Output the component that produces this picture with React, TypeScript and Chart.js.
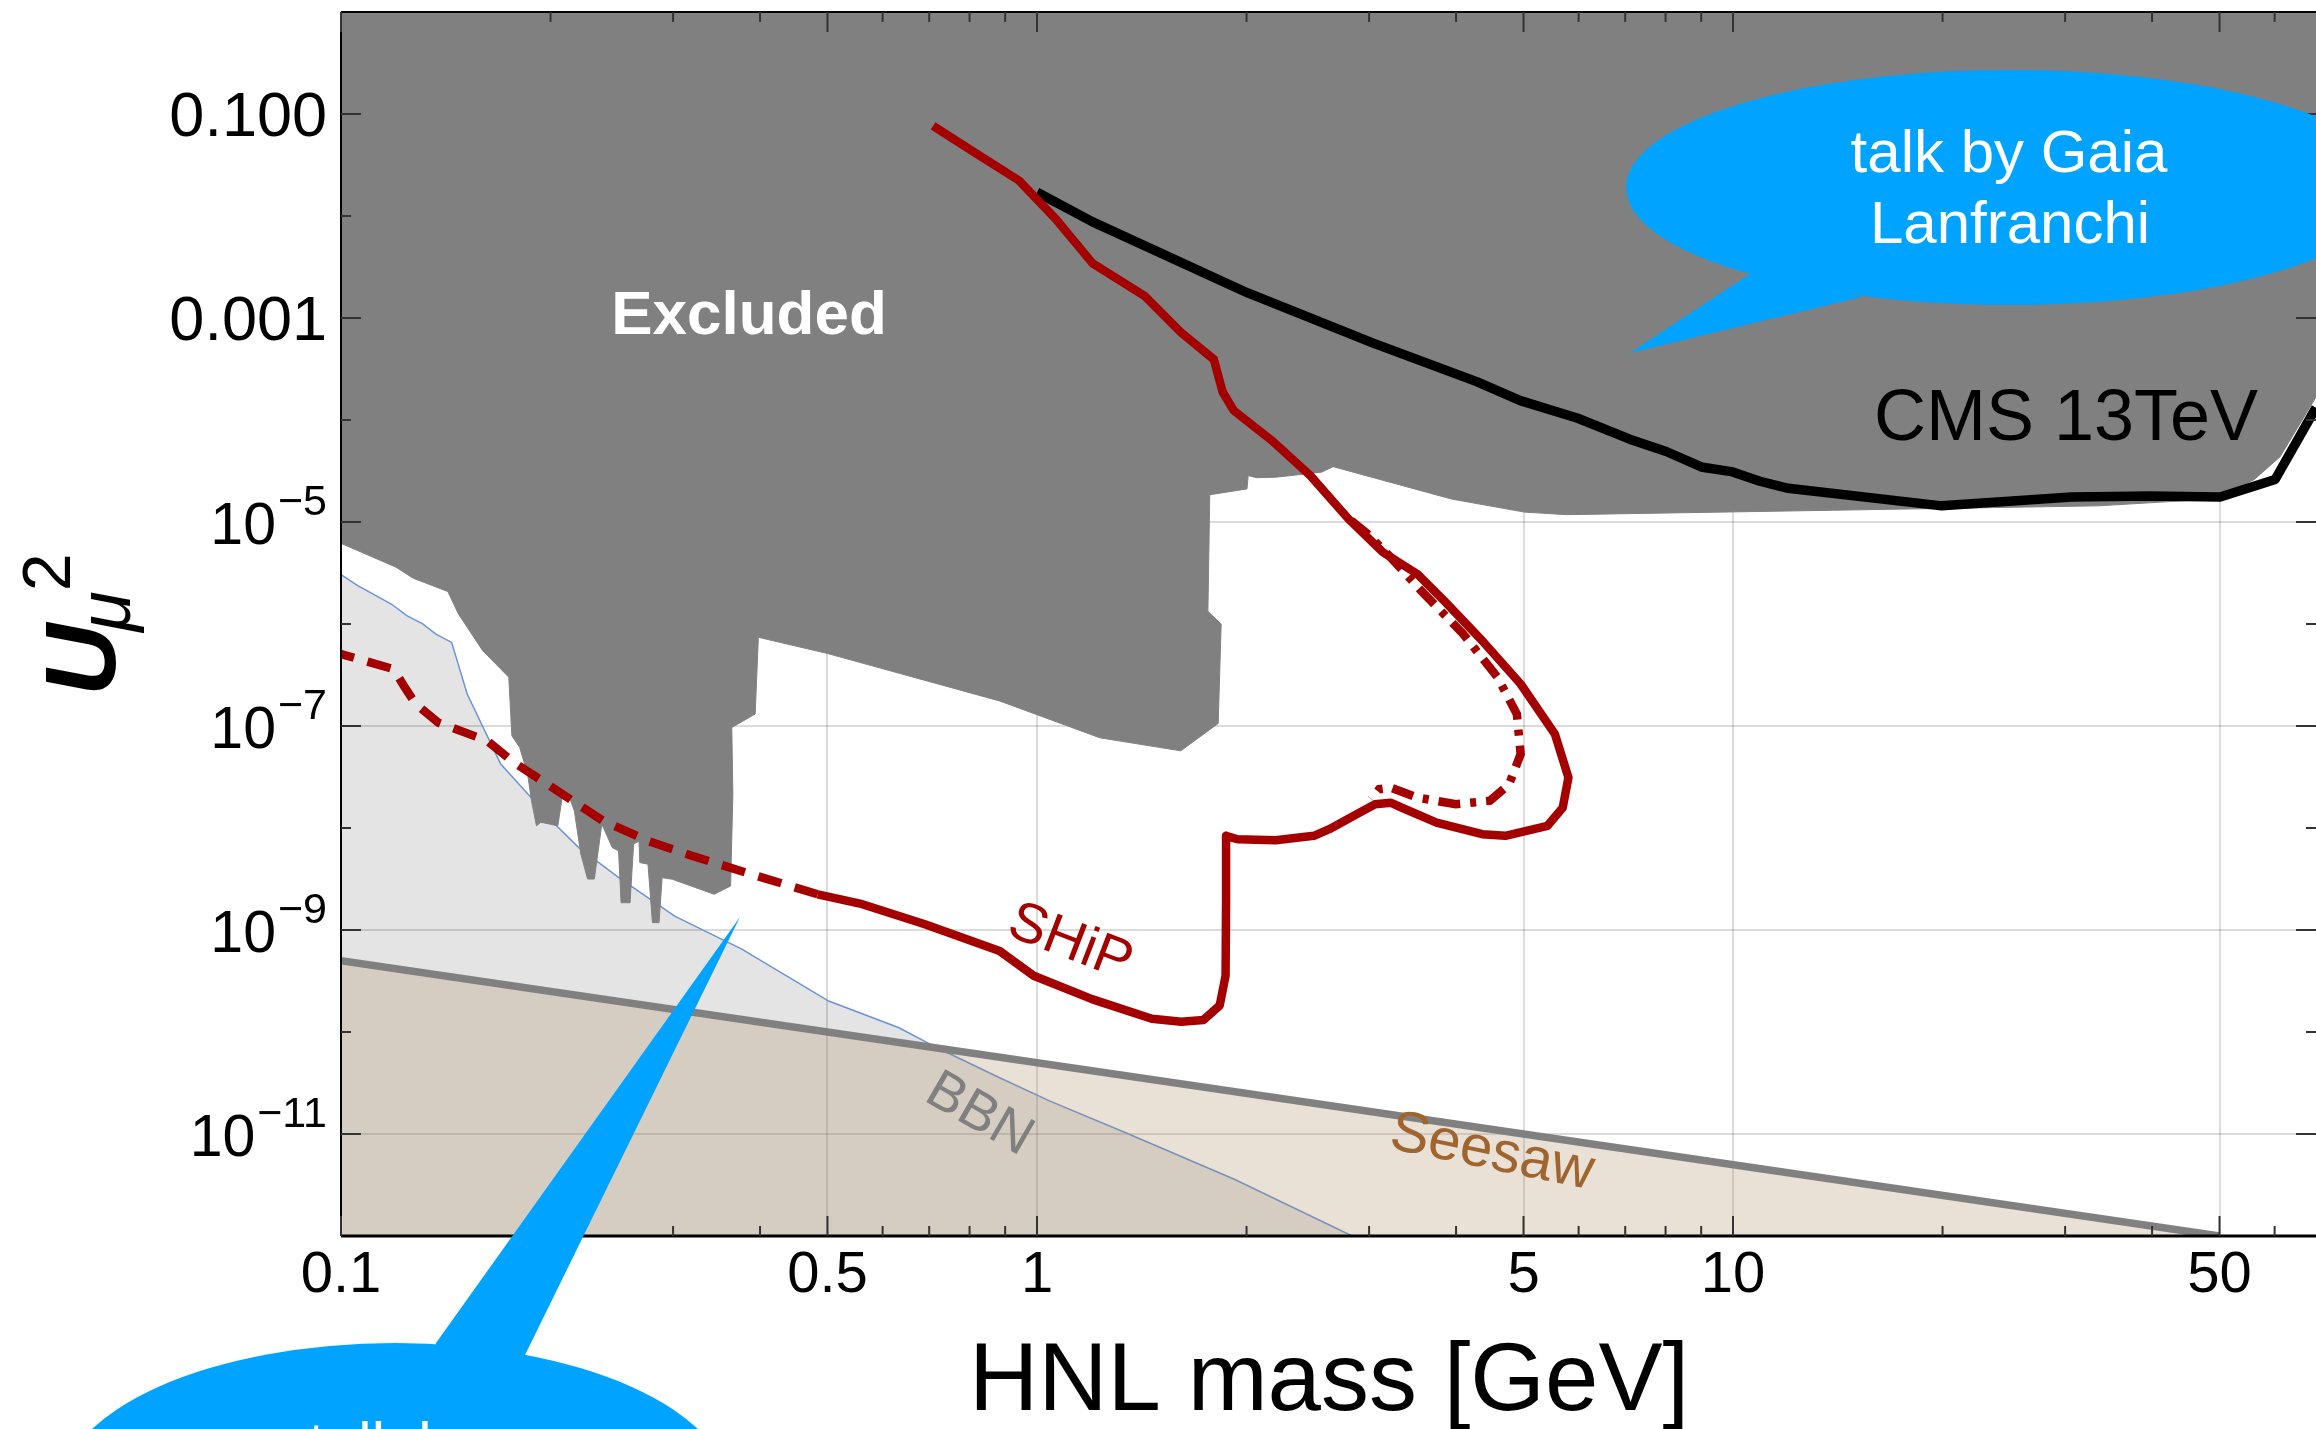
import React, { useEffect, useRef } from 'react';
import { Chart, registerables } from 'chart.js';

Chart.register(...registerables);

const FONT = "'Liberation Sans', Arial, Helvetica, sans-serif";

// ---------- axis ticks ----------
const X_TICKS = [0.1, 0.5, 1, 5, 10, 50];
const X_TICK_LABELS = ['0.1', '0.5', '1', '5', '10', '50'];
const X_MINOR = [0.2, 0.3, 0.4, 0.6, 0.7, 0.8, 0.9, 2, 3, 4, 6, 7, 8, 9, 20, 30, 40, 60];
const Y_TICKS = [1e-1, 1e-3, 1e-5, 1e-7, 1e-9, 1e-11];
const Y_TICK_BASE = ['0.100', '0.001', '10', '10', '10', '10'];
const Y_TICK_EXP = ['', '', '\u22125', '\u22127', '\u22129', '\u221211'];
const Y_MINOR = [1e-2, 1e-4, 1e-6, 1e-8, 1e-10];

// ---------- Excluded region (lower boundary) ----------
const EXCL_M = [0.1, 0.12, 0.127, 0.1424, 0.1474, 0.1598, 0.1742, 0.176, 0.1806, 0.1854, 0.1878, 0.1909, 0.1937, 0.2049, 0.2085, 0.2125, 0.2164, 0.2211, 0.2261, 0.2312, 0.237, 0.2453, 0.2505, 0.2526, 0.2602, 0.2633, 0.268, 0.2687, 0.2761, 0.2802, 0.2864, 0.2893, 0.2994, 0.3436, 0.3629, 0.3656, 0.3643, 0.3936, 0.3978, 0.5004, 0.8837, 1.231, 1.609, 1.821, 1.839, 1.76, 1.771, 2.003, 2.011, 2.068, 2.203, 2.564, 2.663, 3.94, 5.016, 5.77, 33.46, 49.7, 56.1, 61.1, 68.8];
const EXCL_U2 = [6.18e-6, 3.6e-6, 2.81e-6, 2.08e-6, 1.26e-6, 5.48e-7, 3.01e-7, 8.0e-8, 6.17e-8, 3.39e-8, 1.85e-8, 1.05e-8, 1.14e-8, 1.05e-8, 2.3e-8, 2.08e-8, 1.47e-8, 5.56e-9, 3.16e-9, 3.16e-9, 1.09e-8, 6.44e-9, 5.96e-9, 1.85e-9, 1.85e-9, 6.95e-9, 7.44e-9, 4.58e-9, 4.42e-9, 1.18e-9, 1.18e-9, 3.26e-9, 3.14e-9, 2.24e-9, 2.7e-9, 2.15e-8, 9.68e-8, 1.31e-7, 7.41e-7, 5.13e-7, 1.76e-7, 7.66e-8, 5.71e-8, 1.06e-7, 1.0e-6, 1.33e-6, 1.85e-5, 2.11e-5, 2.85e-5, 2.72e-5, 2.75e-5, 3.08e-5, 3.49e-5, 1.68e-5, 1.25e-5, 1.18e-5, 1.44e-5, 1.69e-5, 2.61e-5, 4.37e-5, 1.68e-4];

// ---------- CMS 13 TeV ----------
const CMS_M = [1.0, 1.202, 2.008, 3.041, 4.282, 4.948, 5.983, 7.104, 8.016, 9.04, 9.94, 10.93, 12.0, 19.95, 30.67, 39.7, 50.1, 60.1, 68.8];
const CMS_U2 = [1.71e-2, 8.75e-3, 1.76e-3, 5.67e-4, 2.38e-4, 1.55e-4, 1.04e-4, 6.49e-5, 4.91e-5, 3.44e-5, 3.12e-5, 2.51e-5, 2.14e-5, 1.44e-5, 1.76e-5, 1.8e-5, 1.76e-5, 2.61e-5, 1.32e-4];

// ---------- SHiP (solid) ----------
const SHIP_M = [0.709, 0.813, 0.942, 1.064, 1.202, 1.427, 1.612, 1.795, 1.848, 1.917, 2.174, 2.47, 2.803, 3.14, 3.519, 3.845, 4.362, 4.953, 5.548, 5.801, 5.692, 5.413, 4.708, 4.362, 3.75, 3.344, 3.221, 3.06, 2.909, 2.63, 2.499, 2.203, 1.941, 1.869, 1.869, 1.866, 1.83, 1.734, 1.612, 1.462, 1.202, 0.989, 0.8837, 0.69, 0.561, 0.484];
const SHIP_U2 = [7.66e-2, 4.2e-2, 2.23e-2, 9.35e-3, 3.43e-3, 1.65e-3, 7.16e-4, 3.93e-4, 1.88e-4, 1.24e-4, 6.3e-5, 2.85e-5, 1.07e-5, 5.05e-6, 3.09e-6, 1.69e-6, 6.86e-7, 2.58e-7, 8.32e-8, 3.12e-8, 1.58e-8, 1.05e-8, 8.38e-9, 8.69e-9, 1.13e-8, 1.58e-8, 1.77e-8, 1.71e-8, 1.42e-8, 9.73e-9, 8.38e-9, 7.58e-9, 7.76e-9, 8.38e-9, 1.93e-9, 3.56e-10, 1.82e-10, 1.31e-10, 1.26e-10, 1.35e-10, 2.09e-10, 3.56e-10, 6.22e-10, 1.14e-9, 1.79e-9, 2.24e-9];

// ---------- SHiP (dashed, low mass) ----------
const SHIPD_M = [0.484, 0.382, 0.32, 0.276, 0.2382, 0.1995, 0.1773, 0.1622, 0.1379, 0.1281, 0.1235, 0.119, 0.1];
const SHIPD_U2 = [2.24e-9, 3.65e-9, 5.32e-9, 7.48e-9, 1.17e-8, 2.59e-8, 4.38e-8, 7.16e-8, 1.08e-7, 1.64e-7, 2.39e-7, 3.61e-7, 5.08e-7];

// ---------- SHiP (dash-dot, inner) ----------
const SHIPDD_M = [2.827, 2.985, 3.221, 3.564, 4.097, 4.59, 4.891, 4.953, 4.768, 4.475, 3.995, 3.519, 3.221, 3.1, 3.022];
const SHIPDD_U2 = [1.03e-5, 7.66e-6, 4.51e-6, 2.12e-6, 7.96e-7, 2.99e-7, 1.31e-7, 5.31e-8, 2.69e-8, 1.85e-8, 1.71e-8, 1.99e-8, 2.49e-8, 2.4e-8, 1.92e-8];

// ---------- BBN ----------
const BBN_M = [0.1, 0.1057, 0.1181, 0.1243, 0.1309, 0.1369, 0.1442, 0.1518, 0.1696, 0.1867, 0.204, 0.2196, 0.2507, 0.3016, 0.3766, 0.502, 0.6334, 0.7187, 0.8837, 1.044, 1.341, 1.924, 2.837];
const BBN_U2 = [3.05e-6, 2.38e-6, 1.57e-6, 1.21e-6, 1.01e-6, 7.96e-7, 6.6e-7, 2.06e-7, 4.23e-8, 2.06e-8, 1.05e-8, 6.42e-9, 3.26e-9, 1.37e-9, 6.49e-10, 2.01e-10, 1.1e-10, 7.0e-11, 3.56e-11, 2.1e-11, 1.03e-11, 3.58e-12, 1.0e-12];

// ---------- Seesaw ----------
const SEESAW_M = [0.1, 50];
const SEESAW_U2 = [5e-10, 1e-12];

const pts = (m: number[], u: number[]) => m.map((v, i) => ({ x: v, y: u[i] }));

function drawText(
  ctx: CanvasRenderingContext2D, s: string, x: number, y: number, font: string, color: string,
  align: CanvasTextAlign = 'center', baseline: CanvasTextBaseline = 'alphabetic', rot = 0
) {
  ctx.save();
  ctx.translate(x, y);
  ctx.rotate((rot * Math.PI) / 180);
  ctx.font = font;
  ctx.fillStyle = color;
  ctx.textAlign = align;
  ctx.textBaseline = baseline;
  ctx.fillText(s, 0, 0);
  ctx.restore();
}

const decor = {
  id: 'decor',
  afterDraw(chart: any) {
    const ctx: CanvasRenderingContext2D = chart.ctx;
    const a = chart.chartArea;
    const xs = chart.scales.x;
    const ys = chart.scales.y;
    ctx.save();

    // frame
    ctx.strokeStyle = '#000';
    ctx.lineWidth = 2;
    ctx.beginPath(); ctx.moveTo(a.left, a.top); ctx.lineTo(a.right, a.top); ctx.stroke();
    ctx.beginPath(); ctx.moveTo(a.left, a.top); ctx.lineTo(a.left, a.bottom); ctx.stroke();
    ctx.lineWidth = 3;
    ctx.beginPath(); ctx.moveTo(a.left, a.bottom); ctx.lineTo(a.right, a.bottom); ctx.stroke();

    // inside ticks
    ctx.strokeStyle = '#333';
    ctx.lineWidth = 2;
    const seg = (x1: number, y1: number, x2: number, y2: number) => {
      ctx.beginPath(); ctx.moveTo(x1, y1); ctx.lineTo(x2, y2); ctx.stroke();
    };
    X_TICKS.forEach((v) => { const p = xs.getPixelForValue(v); seg(p, a.bottom, p, a.bottom - 20); seg(p, a.top, p, a.top + 20); });
    X_MINOR.forEach((v) => { const p = xs.getPixelForValue(v); seg(p, a.bottom, p, a.bottom - 10); seg(p, a.top, p, a.top + 10); });
    Y_TICKS.forEach((v) => { const p = ys.getPixelForValue(v); seg(a.left, p, a.left + 20, p); seg(a.right, p, a.right - 20, p); });
    Y_MINOR.forEach((v) => { const p = ys.getPixelForValue(v); seg(a.left, p, a.left + 10, p); seg(a.right, p, a.right - 10, p); });

    // y tick labels
    const right = a.left - 14;
    Y_TICKS.forEach((v, i) => {
      const py = ys.getPixelForValue(v);
      const exp = Y_TICK_EXP[i];
      if (!exp) {
        drawText(ctx, Y_TICK_BASE[i], right, py + 22, `63px ${FONT}`, '#000', 'right');
      } else {
        ctx.font = `43px ${FONT}`;
        const w = ctx.measureText(exp).width;
        drawText(ctx, exp, right, py - 7, `43px ${FONT}`, '#000', 'right');
        drawText(ctx, Y_TICK_BASE[i], right - w - 2, py + 22, `59px ${FONT}`, '#000', 'right');
      }
    });

    // axis titles
    drawText(ctx, 'HNL mass [GeV]', 1329, 1410, `96px ${FONT}`, '#000', 'center');
    ctx.save();
    ctx.translate(115, 696);
    ctx.rotate(-Math.PI / 2);
    ctx.fillStyle = '#000';
    ctx.textAlign = 'left';
    ctx.textBaseline = 'alphabetic';
    ctx.font = `italic bold 100px ${FONT}`;
    ctx.fillText('U', 0, 0);
    const uw = ctx.measureText('U').width;
    ctx.font = `italic 74px ${FONT}`;
    ctx.fillText('\u03bc', uw - 8, 15);
    const mw = ctx.measureText('\u03bc').width;
    ctx.font = `68px ${FONT}`;
    ctx.fillText('2', uw + mw - 8, -45);
    ctx.restore();

    // region annotations
    drawText(ctx, 'Excluded', 749, 334, `bold 62px ${FONT}`, '#fff', 'center');
    drawText(ctx, 'CMS 13TeV', 2066, 440, `72px ${FONT}`, '#000', 'center');
    drawText(ctx, 'SHiP', 1070, 943, `56px ${FONT}`, '#a50000', 'center', 'middle', 21);
    drawText(ctx, 'BBN', 979, 1115, `55px ${FONT}`, '#808080', 'center', 'middle', 30);
    drawText(ctx, 'Seesaw', 1492, 1153, `58px ${FONT}`, '#a0652f', 'center', 'middle', 11.5);

    // speech bubbles
    ctx.fillStyle = '#00a3ff';
    ctx.beginPath(); ctx.ellipse(2010, 187.5, 384, 117.5, 0, 0, Math.PI * 2); ctx.fill();
    ctx.beginPath(); ctx.moveTo(1630, 353); ctx.lineTo(1750, 274); ctx.lineTo(1862, 297); ctx.closePath(); ctx.fill();
    drawText(ctx, 'talk by Gaia', 2009, 172, `60px ${FONT}`, '#fff', 'center');
    drawText(ctx, 'Lanfranchi', 2010, 243, `60px ${FONT}`, '#fff', 'center');

    ctx.fillStyle = '#00a3ff';
    ctx.beginPath(); ctx.ellipse(395, 1493, 335, 150, 0, 0, Math.PI * 2); ctx.fill();
    ctx.beginPath(); ctx.moveTo(740, 917); ctx.lineTo(436, 1343); ctx.lineTo(430, 1390); ctx.lineTo(530, 1390); ctx.lineTo(525, 1355); ctx.closePath(); ctx.fill();
    drawText(ctx, 'talk by', 395, 1464, `60px ${FONT}`, '#fff', 'center');

    ctx.restore();
  },
};

export default function App() {
  const ref = useRef<HTMLCanvasElement>(null);
  useEffect(() => {
    const canvas = ref.current;
    if (!canvas) return;
    const common = { pointRadius: 0, pointHoverRadius: 0, tension: 0, borderCapStyle: 'butt' };
    const chart = new Chart(canvas, {
      type: 'line',
      data: {
        datasets: [
          { ...common, label: 'SHiP', data: pts(SHIP_M, SHIP_U2), borderColor: '#a50000', borderWidth: 8.5, borderJoinStyle: 'round', fill: false, order: 1 },
          { ...common, label: 'SHiP low mass', data: pts(SHIPD_M, SHIPD_U2), borderColor: '#a50000', borderWidth: 8.5, borderDash: [24, 14], fill: false, order: 1 },
          { ...common, label: 'SHiP inner', data: pts(SHIPDD_M, SHIPDD_U2), borderColor: '#a50000', borderWidth: 8.5, borderDash: [22, 10, 6, 10], fill: false, order: 1 },
          { ...common, label: 'CMS 13TeV', data: pts(CMS_M, CMS_U2), borderColor: '#000', borderWidth: 9.5, borderJoinStyle: 'round', fill: false, order: 2 },
          { ...common, label: 'Excluded', data: pts(EXCL_M, EXCL_U2), borderColor: '#808080', borderWidth: 1, backgroundColor: '#808080', fill: 'end', order: 3 },
          { ...common, label: 'Seesaw', data: pts(SEESAW_M, SEESAW_U2), borderColor: '#808080', borderWidth: 7.5, backgroundColor: 'rgba(170,136,97,0.26)', fill: 'start', order: 4 },
          { ...common, label: 'BBN', data: pts(BBN_M, BBN_U2), borderColor: '#6b93d6', borderWidth: 1.5, backgroundColor: 'rgba(0,0,0,0.106)', fill: 'start', order: 5 },
        ] as any,
      },
      options: {
        animation: false,
        responsive: false,
        devicePixelRatio: 1,
        layout: { padding: { left: 341, top: 12, right: 0, bottom: 0 } },
        plugins: { legend: { display: false }, tooltip: { enabled: false } },
        events: [],
        scales: {
          x: {
            type: 'logarithmic',
            min: 0.1,
            max: 68.8,
            bounds: 'data',
            afterBuildTicks: (s: any) => { s.ticks = X_TICKS.map((v) => ({ value: v })); },
            afterFit: (s: any) => { s.height = 193; },
            ticks: {
              autoSkip: false,
              maxRotation: 0,
              minRotation: 0,
              padding: 5,
              color: '#000',
              font: { family: FONT, size: 58 },
              callback: (v: any) => { const i = X_TICKS.indexOf(Number(v)); return i >= 0 ? X_TICK_LABELS[i] : ''; },
            },
            grid: { color: 'rgba(0,0,0,0.14)', lineWidth: 2, drawTicks: false },
            border: { display: false },
          },
          y: {
            type: 'logarithmic',
            min: 1e-12,
            max: 1,
            bounds: 'data',
            afterBuildTicks: (s: any) => { s.ticks = Y_TICKS.map((v) => ({ value: v })); },
            afterFit: (s: any) => { s.width = 0; },
            ticks: { display: false },
            grid: { color: 'rgba(0,0,0,0.14)', lineWidth: 2, drawTicks: false },
            border: { display: false },
          },
        },
      } as any,
      plugins: [decor],
    });
    return () => chart.destroy();
  }, []);

  return (
    <div style={{ position: 'fixed', left: 0, top: 0, width: 2316, height: 1429, background: '#fff', overflow: 'hidden' }}>
      <canvas ref={ref} width={2316} height={1429} style={{ display: 'block', width: 2316, height: 1429 }} />
    </div>
  );
}
